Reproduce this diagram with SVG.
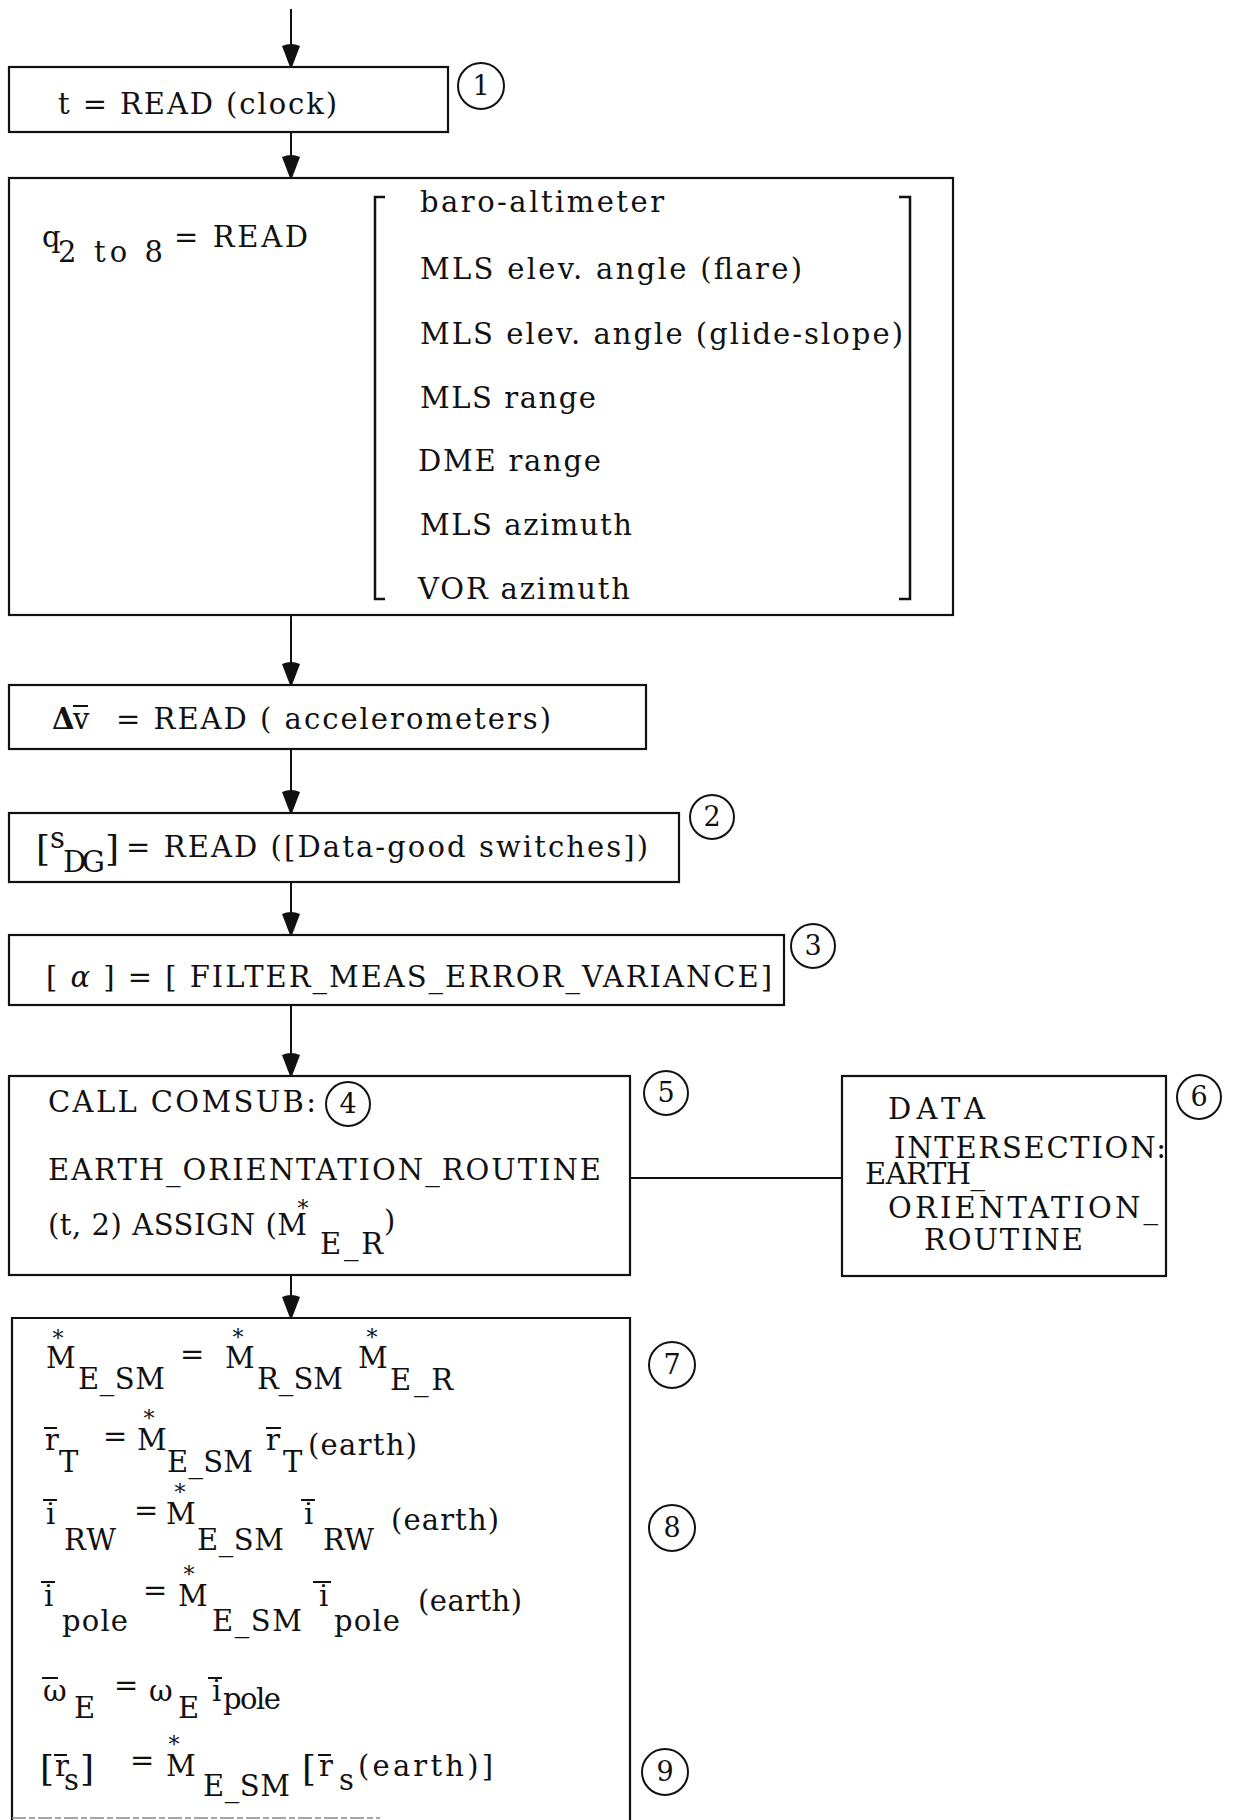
<svg xmlns="http://www.w3.org/2000/svg" width="1233" height="1820" viewBox="0 0 1233 1820">
<style>
.box{fill:none;stroke:#111;stroke-width:2.2}
.t{font-family:"DejaVu Serif","Liberation Serif",serif;font-size:29px;fill:#111}
.ast{font-family:"DejaVu Serif","Liberation Serif",serif;font-size:22px;fill:#111;text-anchor:middle}
.big{font-size:36px}
.num circle{fill:none;stroke:#111;stroke-width:2}
.num text{font-family:"DejaVu Serif","Liberation Serif",serif;font-size:27px;fill:#111;text-anchor:middle}
.bar{stroke:#111;stroke-width:2}
.conn line{stroke:#111;stroke-width:2}
</style>
<defs>
<marker id="ah" markerUnits="userSpaceOnUse" viewBox="0 0 18 24" refX="9" refY="24" markerWidth="18" markerHeight="24" orient="0">
<path d="M0,3 Q9,-1 18,3 L10,24 L8,24 Z" fill="#111"/>
</marker>
</defs>
<rect width="1233" height="1820" fill="#fff"/>

<g id="connectors" class="conn">
<line x1="291" y1="9" x2="291" y2="67" marker-end="url(#ah)"/>
<line x1="291" y1="132" x2="291" y2="178" marker-end="url(#ah)"/>
<line x1="291" y1="615" x2="291" y2="685" marker-end="url(#ah)"/>
<line x1="291" y1="749" x2="291" y2="813" marker-end="url(#ah)"/>
<line x1="291" y1="882" x2="291" y2="935" marker-end="url(#ah)"/>
<line x1="291" y1="1005" x2="291" y2="1076" marker-end="url(#ah)"/>
<line x1="291" y1="1275" x2="291" y2="1318" marker-end="url(#ah)"/>
<line x1="630" y1="1178" x2="842" y2="1178"/>
</g>

<g id="n1">
<rect class="box" x="9" y="67" width="439" height="65"/>
<text class="t" x="58" y="114" textLength="279" lengthAdjust="spacing">t = READ (clock)</text>
<g class="num"><circle cx="481" cy="86" r="23"/><text x="481" y="95">1</text></g>
</g>

<g id="n2">
<rect class="box" x="9" y="178" width="944" height="437"/>
<text class="t" x="42" y="247">q</text>
<text class="t" x="58" y="262" textLength="105" lengthAdjust="spacing">2 to 8</text>
<text class="t" x="174" y="247" textLength="134" lengthAdjust="spacing">= READ</text>
<path d="M385,197 L375,197 L375,599 L385,599" fill="none" stroke="#111" stroke-width="2.5"/>
<path d="M899,197 L910,197 L910,599 L899,599" fill="none" stroke="#111" stroke-width="2.5"/>
<text class="t" x="420" y="212" textLength="244" lengthAdjust="spacing">baro-altimeter</text>
<text class="t" x="420" y="279" textLength="382" lengthAdjust="spacing">MLS elev. angle (flare)</text>
<text class="t" x="420" y="344" textLength="483" lengthAdjust="spacing">MLS elev. angle (glide-slope)</text>
<text class="t" x="420" y="408" textLength="176" lengthAdjust="spacing">MLS range</text>
<text class="t" x="418" y="471" textLength="183" lengthAdjust="spacing">DME range</text>
<text class="t" x="420" y="535" textLength="212" lengthAdjust="spacing">MLS azimuth</text>
<text class="t" x="418" y="599" textLength="212" lengthAdjust="spacing">VOR azimuth</text>
</g>

<g id="n3">
<rect class="box" x="9" y="685" width="637" height="64"/>
<text class="t" x="52" y="729" font-weight="bold">Δ</text>
<text class="t" x="73" y="729">v</text>
<line class="bar" x1="73" y1="706" x2="88" y2="706"/>
<text class="t" x="116" y="729" textLength="435" lengthAdjust="spacing">= READ ( accelerometers)</text>
</g>

<g id="n4">
<rect class="box" x="9" y="813" width="670" height="69"/>
<text class="t big" x="36" y="861">[</text>
<text class="t" x="50" y="848">s</text>
<text class="t" x="63" y="872" textLength="42" lengthAdjust="spacing">DG</text>
<text class="t big" x="105" y="861">]</text>
<text class="t" x="126" y="857" textLength="522" lengthAdjust="spacing">= READ ([Data-good switches])</text>
<g class="num"><circle cx="712" cy="817" r="22"/><text x="712" y="826">2</text></g>
</g>

<g id="n5">
<rect class="box" x="9" y="935" width="775" height="70"/>
<text class="t" x="46" y="987" textLength="726" lengthAdjust="spacing">[ <tspan font-style="italic">α</tspan> ] = [ FILTER_MEAS_ERROR_VARIANCE]</text>
<g class="num"><circle cx="813" cy="946" r="22"/><text x="813" y="955">3</text></g>
</g>

<g id="n6">
<rect class="box" x="9" y="1076" width="621" height="199"/>
<text class="t" x="48" y="1112" textLength="268" lengthAdjust="spacing">CALL COMSUB:</text>
<g class="num"><circle cx="348" cy="1104" r="22"/><text x="348" y="1113">4</text></g>
<text class="t" x="48" y="1180" textLength="553" lengthAdjust="spacing">EARTH_ORIENTATION_ROUTINE</text>
<text class="ast" x="303" y="1216">*</text>
<text class="t" x="48" y="1235" textLength="259" lengthAdjust="spacing">(t, 2) ASSIGN (M</text>
<text class="t" x="320" y="1254" textLength="63" lengthAdjust="spacing">E_R</text>
<text class="t" x="384" y="1231">)</text>
<g class="num"><circle cx="666" cy="1093" r="22"/><text x="666" y="1102">5</text></g>
</g>

<g id="n7">
<rect class="box" x="842" y="1076" width="324" height="200"/>
<text class="t" x="888" y="1119" textLength="97" lengthAdjust="spacing">DATA</text>
<text class="t" x="894" y="1158" textLength="272" lengthAdjust="spacing">INTERSECTION:</text>
<text class="t" x="865" y="1184" textLength="120" lengthAdjust="spacing">EARTH_</text>
<text class="t" x="888" y="1218" textLength="270" lengthAdjust="spacing">ORIENTATION_</text>
<text class="t" x="924" y="1250" textLength="159" lengthAdjust="spacing">ROUTINE</text>
<g class="num"><circle cx="1199" cy="1097" r="22"/><text x="1199" y="1106">6</text></g>
</g>

<g id="n8">
<path d="M12,1820 L12,1318 L630,1318 L630,1820" class="box"/>
<line x1="12" y1="1818" x2="380" y2="1818" stroke="#888" stroke-width="1.5" stroke-dasharray="14 3 6 3"/>
<!-- eq 1 -->
<text class="ast" x="58" y="1346">*</text>
<text class="t" x="46" y="1368">M</text>
<text class="t" x="78" y="1389" textLength="87" lengthAdjust="spacing">E_SM</text>
<text class="t" x="180" y="1364">=</text>
<text class="ast" x="238" y="1345">*</text>
<text class="t" x="225" y="1368">M</text>
<text class="t" x="257" y="1389" textLength="86" lengthAdjust="spacing">R_SM</text>
<text class="ast" x="372" y="1345">*</text>
<text class="t" x="358" y="1368">M</text>
<text class="t" x="390" y="1390" textLength="63" lengthAdjust="spacing">E_R</text>
<g class="num"><circle cx="672" cy="1365" r="23"/><text x="672" y="1374">7</text></g>
<!-- eq 2 -->
<text class="t" x="45" y="1450">r</text>
<line class="bar" x1="44" y1="1428" x2="57" y2="1428"/>
<text class="t" x="59" y="1472">T</text>
<text class="t" x="103" y="1446">=</text>
<text class="ast" x="149" y="1426">*</text>
<text class="t" x="137" y="1450">M</text>
<text class="t" x="167" y="1472" textLength="86" lengthAdjust="spacing">E_SM</text>
<text class="t" x="266" y="1450">r</text>
<line class="bar" x1="266" y1="1428" x2="281" y2="1428"/>
<text class="t" x="283" y="1472">T</text>
<text class="t" x="308" y="1455" textLength="109" lengthAdjust="spacing">(earth)</text>
<!-- eq 3 -->
<text class="t" x="46" y="1524">i</text>
<line class="bar" x1="43" y1="1500" x2="57" y2="1500"/>
<text class="t" x="64" y="1550" textLength="52" lengthAdjust="spacing">RW</text>
<text class="t" x="134" y="1520">=</text>
<text class="ast" x="180" y="1500">*</text>
<text class="t" x="166" y="1524">M</text>
<text class="t" x="197" y="1550" textLength="87" lengthAdjust="spacing">E_SM</text>
<text class="t" x="304" y="1524">i</text>
<line class="bar" x1="301" y1="1500" x2="315" y2="1500"/>
<text class="t" x="323" y="1550" textLength="51" lengthAdjust="spacing">RW</text>
<text class="t" x="391" y="1530" textLength="108" lengthAdjust="spacing">(earth)</text>
<g class="num"><circle cx="672" cy="1528" r="23"/><text x="672" y="1537">8</text></g>
<!-- eq 4 -->
<text class="t" x="44" y="1606">i</text>
<line class="bar" x1="41" y1="1582" x2="55" y2="1582"/>
<text class="t" x="62" y="1631" textLength="66" lengthAdjust="spacing">pole</text>
<text class="t" x="143" y="1600">=</text>
<text class="ast" x="189" y="1582">*</text>
<text class="t" x="178" y="1606">M</text>
<text class="t" x="212" y="1631" textLength="90" lengthAdjust="spacing">E_SM</text>
<text class="t" x="319" y="1606">i</text>
<line class="bar" x1="313" y1="1582" x2="331" y2="1582"/>
<text class="t" x="334" y="1631" textLength="66" lengthAdjust="spacing">pole</text>
<text class="t" x="418" y="1611" textLength="104" lengthAdjust="spacing">(earth)</text>
<!-- eq 5 -->
<text class="t" x="43" y="1701">ω</text>
<line class="bar" x1="42" y1="1678" x2="58" y2="1678"/>
<text class="t" x="74" y="1718">E</text>
<text class="t" x="114" y="1695">=</text>
<text class="t" x="149" y="1701">ω</text>
<text class="t" x="178" y="1718">E</text>
<text class="t" x="212" y="1701">i</text>
<line class="bar" x1="208" y1="1678" x2="222" y2="1678"/>
<text class="t" x="223" y="1709" textLength="58" lengthAdjust="spacing">pole</text>
<!-- eq 6 -->
<text class="t big" x="40" y="1781">[</text>
<text class="t" x="55" y="1776">r</text>
<line class="bar" x1="54" y1="1755" x2="67" y2="1755"/>
<text class="t" x="64" y="1790">s</text>
<text class="t big" x="80" y="1781">]</text>
<text class="t" x="130" y="1770">=</text>
<text class="ast" x="174" y="1752">*</text>
<text class="t" x="166" y="1776">M</text>
<text class="t" x="203" y="1796" textLength="87" lengthAdjust="spacing">E_SM</text>
<text class="t big" x="302" y="1781">[</text>
<text class="t" x="319" y="1776">r</text>
<line class="bar" x1="318" y1="1755" x2="331" y2="1755"/>
<text class="t" x="339" y="1790">s</text>
<text class="t" x="358" y="1776" textLength="135" lengthAdjust="spacing">(earth)]</text>
<g class="num"><circle cx="665" cy="1772" r="23"/><text x="665" y="1781">9</text></g>
</g>
</svg>
